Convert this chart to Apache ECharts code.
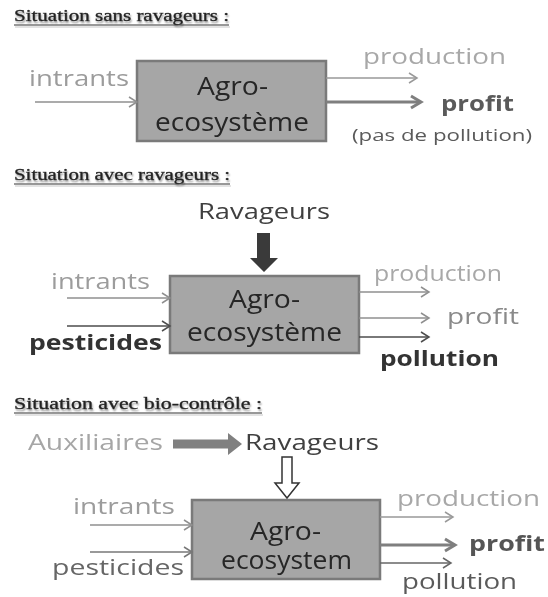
<!DOCTYPE html>
<html>
<head>
<meta charset="utf-8">
<script src="https://cdn.jsdelivr.net/npm/echarts@6/dist/echarts.min.js"></script>
<style>html,body{margin:0;padding:0;background:#fff}#c{width:548px;height:597px}</style>
</head>
<body>
<div id="c"></div>
<script>
// ---- content (texts) ----
const titles = ['Situation sans ravageurs :', 'Situation avec ravageurs :', 'Situation avec bio-contrôle :'];
const boxText = [['Agro-', 'ecosystème'], ['Agro-', 'ecosystème'], ['Agro-', 'ecosystem']];
const inputs = [['intrants'], ['intrants', 'pesticides'], ['intrants', 'pesticides']];
const outputs = [['production', 'profit'], ['production', 'profit', 'pollution'], ['production', 'profit', 'pollution']];
const notes = ['(pas de pollution)'];
const agents = ['Ravageurs', 'Auxiliaires'];

// ---- layout (diagram units = px of the 548x597 page) ----
const SANS = '"Open Sans", "Noto Sans", sans-serif';
const SERIF = '"Liberation Serif", "DejaVu Serif", serif';
const boxes = [[137, 61, 326, 141], [170, 276, 359, 353], [192, 500, 380, 579]];
// text: [string, x0, x1, yCenter, size, bold, color, family, underline]
const texts = [
  [titles[0], 14, 229, 17, 16, false, '#222222', SERIF, true],
  [inputs[0][0], 29, 129, 80, 21, false, '#9c9c9c', SANS],
  [boxText[0][0], 197, 268, 88, 26, false, '#262626', SANS],
  [boxText[0][1], 155, 309, 124, 26, false, '#262626', SANS],
  [outputs[0][0], 363, 506, 58, 21, false, '#a8a8a8', SANS],
  [outputs[0][1], 441, 514, 105, 21, true, '#5a5a5a', SANS],
  [notes[0], 352, 532, 136, 17, false, '#5a5a5a', SANS],

  [titles[1], 14, 230, 176, 16, false, '#222222', SERIF, true],
  [agents[0], 198, 330, 213, 22, false, '#3f3f3f', SANS],
  [inputs[1][0], 51, 150, 283, 21, false, '#9c9c9c', SANS],
  [inputs[1][1], 29, 162, 344, 22, true, '#333333', SANS],
  [boxText[1][0], 229, 300, 301, 26, false, '#262626', SANS],
  [boxText[1][1], 187, 342, 334, 26, false, '#262626', SANS],
  [outputs[1][0], 374, 502, 275, 21, false, '#a8a8a8', SANS],
  [outputs[1][1], 447, 519, 318, 21, false, '#8a8a8a', SANS],
  [outputs[1][2], 380, 499, 360, 22, true, '#333333', SANS],

  [titles[2], 14, 262, 405, 16, false, '#222222', SERIF, true],
  [agents[1], 28, 163, 444, 22, false, '#a6a6a6', SANS],
  [agents[0], 245, 379, 444, 22, false, '#404040', SANS],
  [inputs[2][0], 73, 175, 508, 21, false, '#9c9c9c', SANS],
  [inputs[2][1], 52, 184, 569, 22, false, '#666666', SANS],
  [boxText[2][0], 250, 321, 533, 26, false, '#262626', SANS],
  [boxText[2][1], 221, 352, 562, 26, false, '#262626', SANS],
  [outputs[2][0], 397, 540, 500, 21, false, '#a8a8a8', SANS],
  [outputs[2][1], 469, 545, 545, 21, true, '#555555', SANS],
  [outputs[2][2], 402, 517, 583, 21, false, '#5a5a5a', SANS]
];
// arrows: [x0, x1, y, color, lineWidth]
const arrows = [
  [35, 137, 102, '#8f8f8f', 1.5],
  [326, 417, 78, '#999999', 1.5],
  [326, 421, 102, '#7f7f7f', 3],
  [67, 170, 298, '#8f8f8f', 1.5],
  [67, 170, 326, '#4d4d4d', 1.5],
  [359, 429, 292, '#8f8f8f', 1.5],
  [359, 429, 318, '#8f8f8f', 1.5],
  [359, 429, 337, '#4d4d4d', 1.5],
  [90, 192, 525, '#8f8f8f', 1.5],
  [90, 192, 552, '#777777', 1.5],
  [380, 453, 517, '#999999', 1.5],
  [380, 455, 545, '#7f7f7f', 3],
  [380, 451, 563, '#666666', 1.5]
];

const measureCtx = document.createElement('canvas').getContext('2d');
function fontOf(t) { return (t[5] ? 'bold ' : '') + t[4] + 'px ' + t[7]; }

function renderItem(params, api) {
  const c = (x, y) => api.coord([x, y]);
  const kids = [];
  // boxes
  boxes.forEach(b => {
    const p0 = c(b[0], b[1]), p1 = c(b[2], b[3]);
    kids.push({ type: 'rect', shape: { x: p0[0], y: p0[1], width: p1[0] - p0[0], height: p1[1] - p0[1] },
      style: { fill: '#a6a6a6', stroke: '#7a7a7a', lineWidth: 2.5 } });
  });
  // line arrows
  arrows.forEach(a => {
    const s = c(a[0], a[2]), e = c(a[1], a[2]);
    const thick = a[4] > 2;
    const hl = thick ? 10 : 8, hw = thick ? 6 : 5;
    kids.push({ type: 'line', shape: { x1: s[0], y1: s[1], x2: e[0] - 1, y2: e[1] },
      style: { stroke: a[3], lineWidth: a[4] } });
    kids.push({ type: 'polyline', shape: { points: [[e[0] - hl, e[1] - hw], [e[0], e[1]], [e[0] - hl, e[1] + hw]] },
      style: { stroke: a[3], lineWidth: a[4], fill: null, lineJoin: 'miter' } });
  });
  // block arrow down (ravageurs, panel 2)
  const pts1 = [[257, 233], [270, 233], [270, 258], [278, 258], [264, 272], [250, 258], [257, 258]].map(p => c(p[0], p[1]));
  kids.push({ type: 'polygon', shape: { points: pts1 }, style: { fill: '#3a3a3a' } });
  // block arrow right (auxiliaires, panel 3)
  const pts2 = [[173, 439.5], [228, 439.5], [228, 433], [242, 444], [228, 455], [228, 448.5], [173, 448.5]].map(p => c(p[0], p[1]));
  kids.push({ type: 'polygon', shape: { points: pts2 }, style: { fill: '#808080' } });
  // hollow arrow down (panel 3)
  const pts3 = [[282, 457], [292, 457], [292, 483], [299, 483], [287, 498], [275, 483], [282, 483]].map(p => c(p[0], p[1]));
  kids.push({ type: 'polygon', shape: { points: pts3 }, style: { fill: '#ffffff', stroke: '#333333', lineWidth: 1.5 } });
  // texts
  texts.forEach(t => {
    const font = fontOf(t);
    measureCtx.font = font;
    const w = measureCtx.measureText(t[0]).width;
    const p0 = c(t[1], t[3]), p1 = c(t[2], t[3]);
    const sx = (p1[0] - p0[0]) / w;
    const isTitle = !!t[8];
    const x = isTitle ? p0[0] : (p0[0] + p1[0]) / 2;
    kids.push({ type: 'text', x: x, y: p0[1], scaleX: sx, scaleY: 1,
      style: { text: t[0], font: font, fill: t[6],
        align: isTitle ? 'left' : 'center', verticalAlign: 'middle',
        textAlign: isTitle ? 'left' : 'center', textVerticalAlign: 'middle',
        stroke: isTitle ? '#555555' : null, lineWidth: isTitle ? 0.4 : 0,
        textShadowColor: isTitle ? 'rgba(0,0,0,0.3)' : 'transparent', textShadowOffsetX: 1, textShadowOffsetY: 2, textShadowBlur: 2 } });
    if (isTitle) {
      kids.push({ type: 'line', shape: { x1: p0[0], y1: p0[1] + 8, x2: p1[0], y2: p1[1] + 8 },
        style: { stroke: '#333333', lineWidth: 1 } });
      kids.push({ type: 'line', shape: { x1: p0[0] + 1, y1: p0[1] + 10, x2: p1[0] + 1, y2: p1[1] + 10 },
        style: { stroke: 'rgba(0,0,0,0.15)', lineWidth: 1.5 } });
    }
  });
  return { type: 'group', children: kids };
}

const chart = echarts.init(document.getElementById('c'), null, { renderer: 'canvas' });
chart.setOption({
  animation: false,
  backgroundColor: '#ffffff',
  grid: { left: 0, right: 0, top: 0, bottom: 0 },
  xAxis: { type: 'value', min: 0, max: 548, show: false },
  yAxis: { type: 'value', min: 0, max: 597, inverse: true, show: false },
  series: [{ type: 'custom', coordinateSystem: 'cartesian2d', data: [[0, 0]], renderItem: renderItem, silent: true }]
});
</script>
</body>
</html>
